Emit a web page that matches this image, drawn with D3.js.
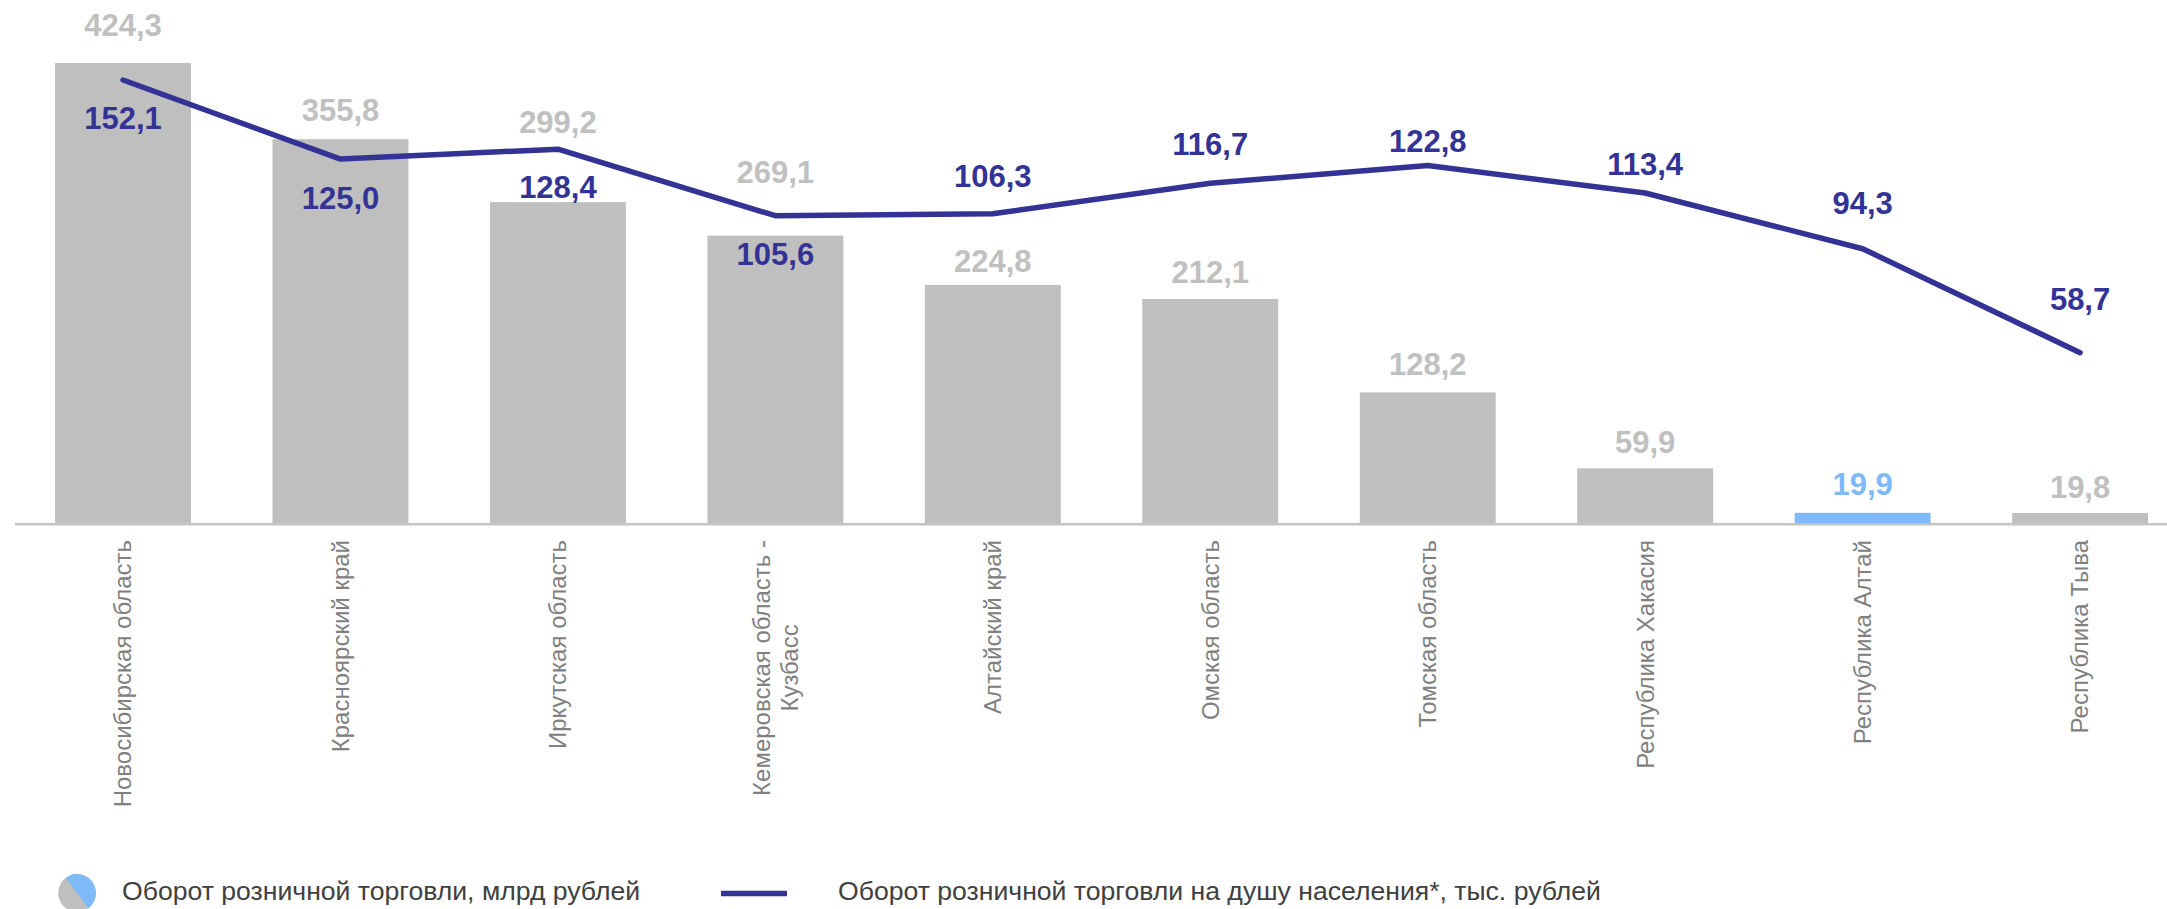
<!DOCTYPE html>
<html><head><meta charset="utf-8">
<script src="https://cdn.jsdelivr.net/npm/d3@7"></script>
<style>html,body{margin:0;padding:0;background:#fff}svg{display:block}</style>
</head><body>
<svg id="chart" width="2167" height="909"></svg>
<script>
// ---- data ----
const categories = [
  "Новосибирская область",
  "Красноярский край",
  "Иркутская область",
  "Кемеровская область -\nКузбасс",
  "Алтайский край",
  "Омская область",
  "Томская область",
  "Республика Хакасия",
  "Республика Алтай",
  "Республика Тыва"
];
const turnover = [424.3, 355.8, 299.2, 269.1, 224.8, 212.1, 128.2, 59.9, 19.9, 19.8];
const perCapita = [152.1, 125.0, 128.4, 105.6, 106.3, 116.7, 122.8, 113.4, 94.3, 58.7];
const highlighted = "Республика Алтай";
const legendLabels = [
  "Оборот розничной торговли, млрд рублей",
  "Оборот розничной торговли на душу населения*, тыс. рублей"
];

// ---- layout (label placement, not data) ----
const barLabelGap = [38, 29, 80, 64, 24, 27, 28, 26, 29, 26];
const lineLabelShift = [37.5, 38.5, 38, 38, -38, -39.6, -25, -29, -46, -54];

const W = 2167, H = 909;
const axisY = 524.3;
const fmt = v => d3.format(".1f")(v).replace(".", ",");

const svg = d3.select("#chart");
const FONT = "'Liberation Sans', Arial, sans-serif";
const numFs = 31;

const x = d3.scaleBand().domain(categories).range([14.3, 2188.8])
  .paddingInner(0.375).paddingOuter(0.1875);
const yBar = d3.scaleLinear().domain([0, 424.3]).range([535, 63]);
const yLine = d3.scaleLinear().domain([0, 152.1]).range([524, 80]);

const barColor = "#bfbfbf", hiColor = "#7fbaf8", lineColor = "#333395";

// bars
svg.append("g").selectAll("rect").data(categories).join("rect")
  .attr("x", d => x(d))
  .attr("width", x.bandwidth())
  .attr("y", (d, i) => yBar(turnover[i]))
  .attr("height", (d, i) => axisY - yBar(turnover[i]))
  .attr("fill", d => d === highlighted ? hiColor : barColor);

// axis line
svg.append("line").attr("x1", 15).attr("x2", W).attr("y1", axisY).attr("y2", axisY)
  .attr("stroke", "#c4c4c4").attr("stroke-width", 2.5);

// line
const line = d3.line().x((d, i) => x(categories[i]) + x.bandwidth() / 2).y(d => yLine(d));
svg.append("path").datum(perCapita).attr("d", line)
  .attr("fill", "none").attr("stroke", lineColor).attr("stroke-width", 5.5)
  .attr("stroke-linejoin", "round").attr("stroke-linecap", "round");

// bar labels
svg.append("g").selectAll("text").data(categories).join("text")
  .attr("x", d => x(d) + x.bandwidth() / 2)
  .attr("y", (d, i) => yBar(turnover[i]) - barLabelGap[i] + 11)
  .attr("text-anchor", "middle")
  .attr("font-family", FONT).attr("font-weight", "bold").attr("font-size", numFs)
  .attr("fill", d => d === highlighted ? hiColor : "#c0c0c0")
  .text((d, i) => fmt(turnover[i]));

// line labels
svg.append("g").selectAll("text").data(categories).join("text")
  .attr("x", d => x(d) + x.bandwidth() / 2)
  .attr("y", (d, i) => yLine(perCapita[i]) + lineLabelShift[i] + 11)
  .attr("text-anchor", "middle")
  .attr("font-family", FONT).attr("font-weight", "bold").attr("font-size", numFs)
  .attr("fill", lineColor)
  .text((d, i) => fmt(perCapita[i]));

// category labels (rotated)
const catTop = 540, catFs = 24;
const cg = svg.append("g").selectAll("g").data(categories).join("g")
  .attr("transform", d => `translate(${x(d) + x.bandwidth() / 2},${catTop}) rotate(-90)`);
cg.each(function(d) {
  const g = d3.select(this);
  const lines = d.split("\n");
  const n = lines.length;
  const ts = lines.map((t, k) => g.append("text")
    .attr("font-family", FONT).attr("font-size", catFs).attr("fill", "#808080")
    .attr("text-anchor", "middle")
    .attr("dy", ((k - (n - 1) / 2) * 1.17 + 0.35) + "em")
    .text(t));
  const maxW = d3.max(ts, t => t.node().getComputedTextLength());
  ts.forEach(t => t.attr("x", -maxW / 2));
});

// legend
const lg = svg.append("g");
const cx = 77, cy = 893, r = 19;
const ang = Math.atan2(33, 24);
const dx = Math.cos(ang) * r, dy = Math.sin(ang) * r;
const clip = svg.append("defs").append("clipPath").attr("id", "lgc");
clip.append("circle").attr("cx", cx).attr("cy", cy).attr("r", r);
const lgIcon = lg.append("g").attr("clip-path", "url(#lgc)");
lgIcon.append("circle").attr("cx", cx).attr("cy", cy).attr("r", r).attr("fill", barColor);
lgIcon.append("path")
  .attr("d", `M${cx - dx},${cy - dy} L${cx + dx},${cy + dy} L${cx + 40},${cy + 40} L${cx + 40},${cy - 40} L${cx - 40},${cy - 40} Z`)
  .attr("fill", hiColor);
lg.append("text").attr("x", 122).attr("y", 900)
  .attr("font-family", FONT).attr("font-size", 26.6).attr("fill", "#404040")
  .text(legendLabels[0]);
lg.append("line").attr("x1", 721).attr("x2", 787).attr("y1", 893.5).attr("y2", 893.5)
  .attr("stroke", lineColor).attr("stroke-width", 5.5);
lg.append("text").attr("x", 838).attr("y", 900)
  .attr("font-family", FONT).attr("font-size", 26.6).attr("fill", "#404040")
  .text(legendLabels[1]);
</script>
</body></html>
